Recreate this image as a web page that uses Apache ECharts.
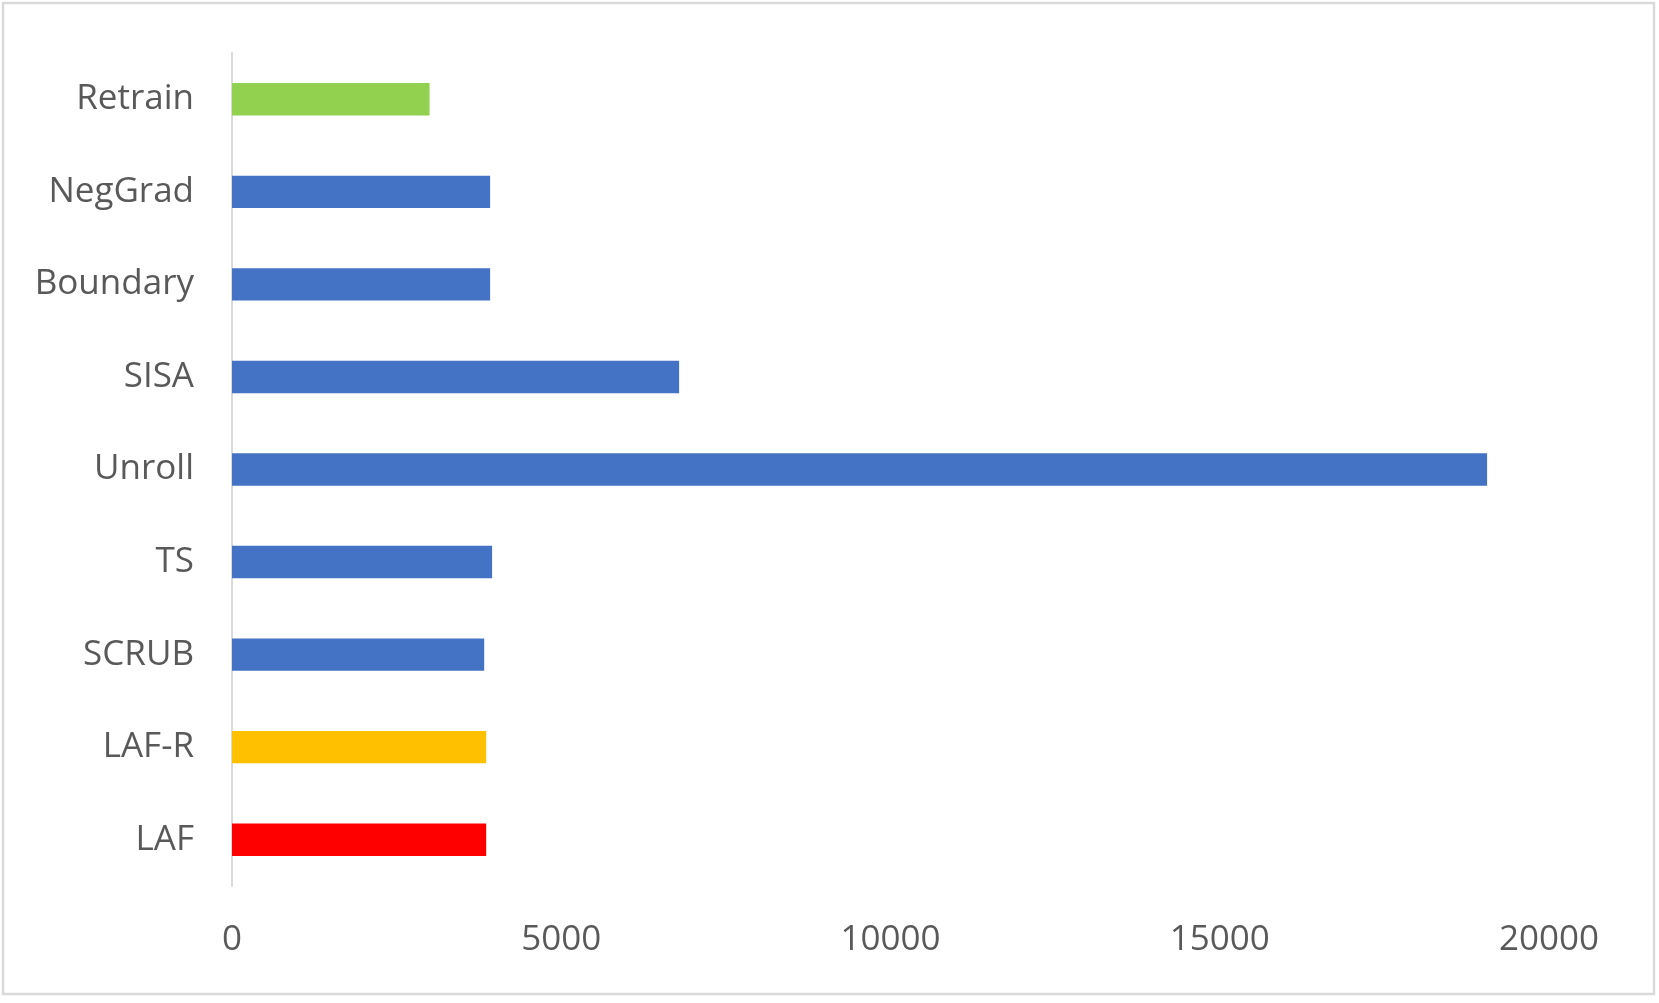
<!DOCTYPE html>
<html>
<head>
<meta charset="utf-8">
<script src="https://cdn.jsdelivr.net/npm/echarts@6/dist/echarts.min.js"></script>
<style>
html,body{margin:0;padding:0;background:#fff;}
#c{width:1659px;height:1003px;}
</style>
</head>
<body>
<div id="c"></div>
<script>
const categories = ["LAF", "LAF-R", "SCRUB", "TS", "Unroll", "SISA", "Boundary", "NegGrad", "Retrain"];
const values = [3860, 3860, 3830, 3950, 19060, 6790, 3920, 3920, 3000];
const barColors = ["#FF0000", "#FFC000", "#4472C4", "#4472C4", "#4472C4", "#4472C4", "#4472C4", "#4472C4", "#92D050"];
const xTicks = [0, 5000, 10000, 15000, 20000];

const chart = echarts.init(document.getElementById('c'));
chart.setOption({
  backgroundColor: '#fff',
  animation: false,
  graphic: [{
    type: 'rect',
    shape: { x: 3, y: 3, width: 1651, height: 991 },
    style: { fill: 'none', stroke: '#d9d9d9', lineWidth: 2.5 },
    silent: true
  }],
  grid: { left: 232, right: 110, top: 53, bottom: 117 },
  xAxis: {
    type: 'value',
    min: xTicks[0],
    max: xTicks[xTicks.length - 1],
    interval: 5000,
    axisLine: { show: false },
    axisTick: { show: false },
    splitLine: { show: false },
    axisLabel: {
      color: '#595959',
      fontFamily: 'Open Sans',
      fontSize: 35,
      margin: 37,
      formatter: v => String(v)
    }
  },
  yAxis: {
    type: 'category',
    data: categories,
    axisLine: { show: true, lineStyle: { color: '#d9d9d9', width: 2 } },
    axisTick: { show: false },
    axisLabel: {
      color: '#595959',
      fontFamily: 'Open Sans',
      fontSize: 35,
      margin: 38
    }
  },
  series: [{
    type: 'bar',
    data: values.map((v, i) => ({ value: v, itemStyle: { color: barColors[i] } })),
    barWidth: '35%'
  }]
});
</script>
</body>
</html>
